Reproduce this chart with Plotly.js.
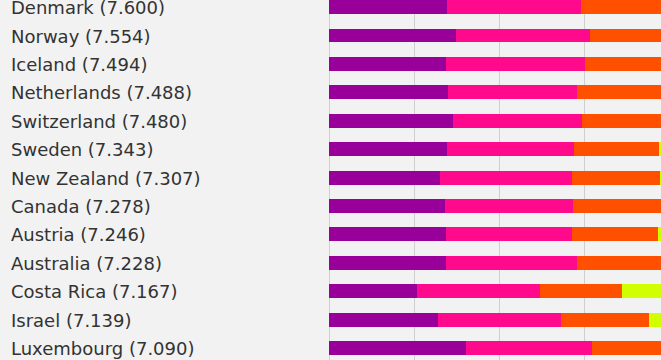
<!DOCTYPE html>
<html>
<head>
<meta charset="utf-8">
<script src="https://cdn.plot.ly/plotly-3.0.1.min.js"></script>
<style>
  html, body { margin: 0; padding: 0; background: #f2f2f2; }
  #chart { width: 661px; height: 360px; }
</style>
</head>
<body>
<div id="chart"></div>
<script>
// World Happiness Report 2019 – contribution of factors (visible part)
const countries = ["Denmark", "Norway", "Iceland", "Netherlands", "Switzerland", "Sweden",
  "New Zealand", "Canada", "Austria", "Australia", "Costa Rica", "Israel", "Luxembourg"];
const scores = ["7.600", "7.554", "7.494", "7.488", "7.480", "7.343",
  "7.307", "7.278", "7.246", "7.228", "7.167", "7.139", "7.090"];
const gdp = [1.383, 1.488, 1.380, 1.396, 1.452, 1.387, 1.303, 1.365, 1.376, 1.372, 1.034, 1.276, 1.609];
const social = [1.573, 1.582, 1.624, 1.522, 1.526, 1.487, 1.557, 1.505, 1.475, 1.548, 1.441, 1.455, 1.479];
const health = [0.996, 1.028, 1.026, 0.999, 1.052, 1.009, 1.026, 1.039, 1.016, 1.036, 0.963, 1.029, 1.012];
const freedom = [0.592, 0.603, 0.591, 0.557, 0.572, 0.574, 0.585, 0.584, 0.532, 0.557, 0.558, 0.371, 0.526];

const seriesNames = ["GDP per capita", "Social support", "Healthy life expectancy", "Freedom"];
const seriesValues = [gdp, social, health, freedom];
const seriesColors = ["#990099", "#ff0a8c", "#ff5000", "#d2ff00"];

const idx = countries.map((_, i) => i);
const traces = seriesValues.map((vals, k) => ({
  type: "bar",
  orientation: "h",
  name: seriesNames[k],
  x: vals,
  y: idx,
  marker: { color: seriesColors[k], line: { width: 0 } },
  hoverinfo: "skip"
}));

const annotations = countries.map((c, i) => ({
  xref: "paper", yref: "y",
  x: -0.964, y: i,
  xanchor: "left", yanchor: "middle",
  yshift: -0.5,
  text: c + " (" + scores[i] + ")",
  showarrow: false,
  font: { family: "DejaVu Sans", size: 18, color: "#333333" }
}));

const layout = {
  width: 661, height: 360,
  margin: { l: 329, r: 0, t: 0, b: 0, pad: 0 },
  paper_bgcolor: "#f2f2f2",
  plot_bgcolor: "#f2f2f2",
  barmode: "stack",
  bargap: 0.51,
  showlegend: false,
  xaxis: {
    range: [0, 3.902],
    showgrid: true, gridcolor: "#cfcfcf", gridwidth: 1,
    dtick: 1, tick0: 0,
    showticklabels: false, ticks: "",
    zeroline: true, zerolinecolor: "#cfcfcf", zerolinewidth: 1,
    showline: false
  },
  yaxis: {
    range: [12.42, -0.25],
    showgrid: false, zeroline: false, showticklabels: false, ticks: "",
    showline: false
  },
  annotations: annotations
};

Plotly.newPlot("chart", traces, layout, { staticPlot: true, displayModeBar: false });
</script>
</body>
</html>
